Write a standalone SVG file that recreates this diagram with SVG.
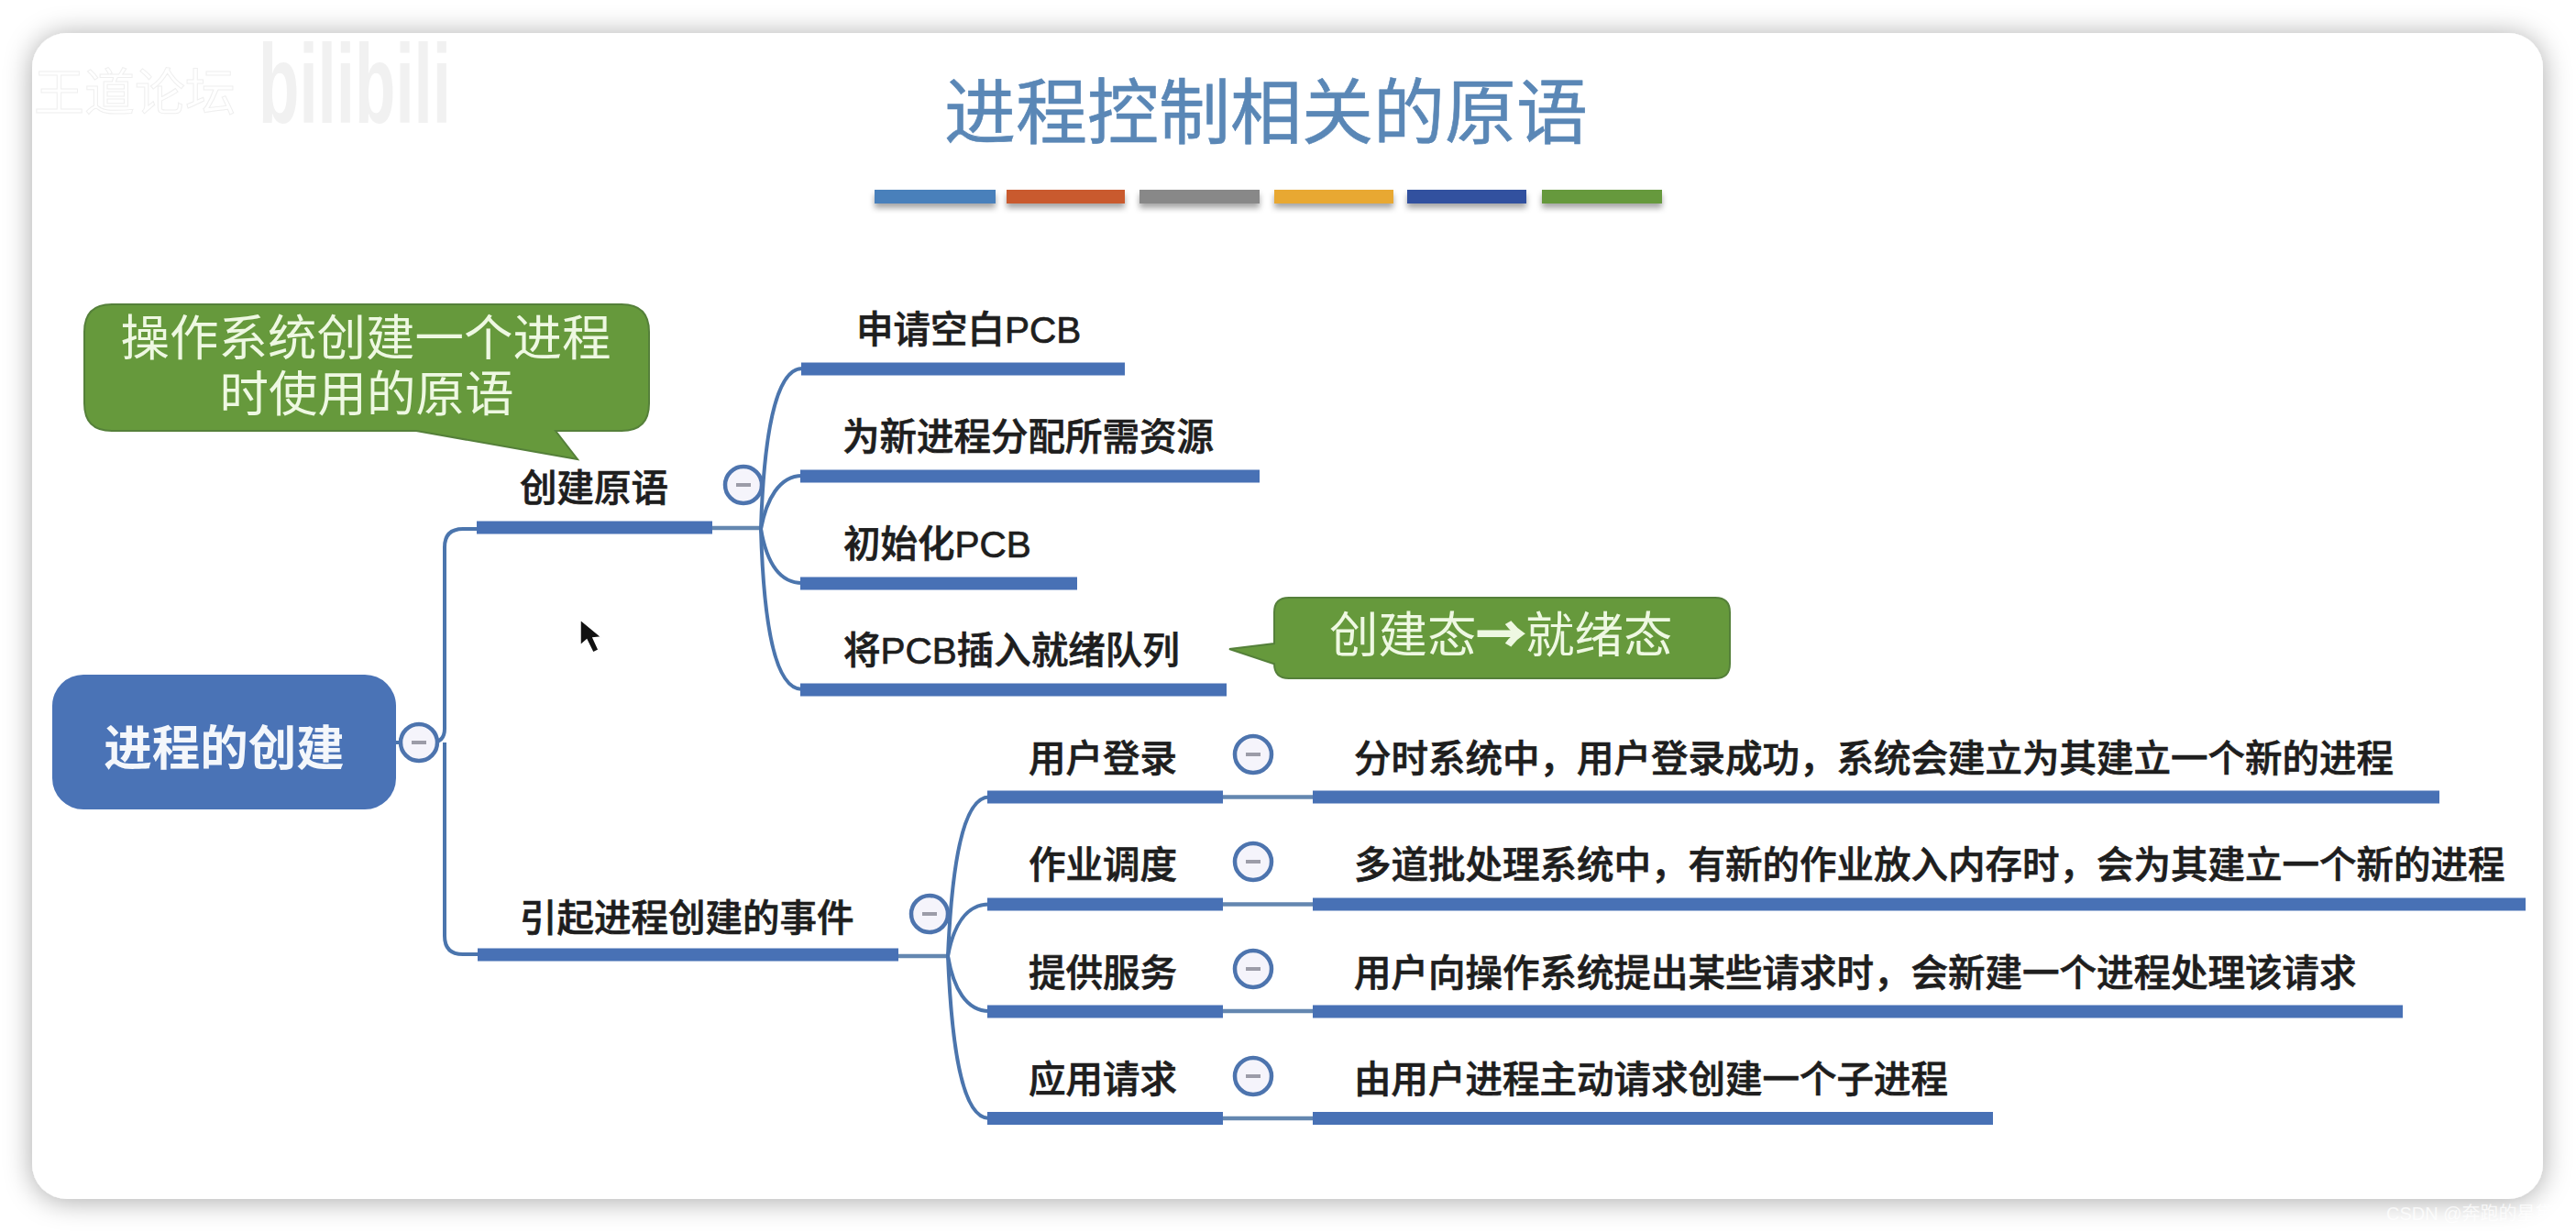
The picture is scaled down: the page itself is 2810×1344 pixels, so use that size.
<svg xmlns="http://www.w3.org/2000/svg" width="2810" height="1344" viewBox="0 0 2810 1344">
<style>
text{font-family:"Liberation Sans","Noto Sans CJK SC",sans-serif}
.lab{font-size:40.5px;fill:#1e1e1e;font-weight:500;stroke:#1e1e1e;stroke-width:.7px}
.call{font-size:53.5px;fill:#eef8e2;text-anchor:middle}
.bar{fill:#4871b5}
.link{fill:none;stroke:#4b75ad;stroke-width:4}
.stem{fill:none;stroke:#6487b0;stroke-width:4.5}
.tog{fill:#f5f4fb;stroke:#4d74ae;stroke-width:4.5}
.min{fill:#9c9ca8}
.green{fill:#66993c;stroke:#55803a;stroke-width:2}
</style>
<defs>
<filter id="card" x="-5%" y="-10%" width="110%" height="120%"><feDropShadow dx="0" dy="2" stdDeviation="15" flood-color="#000" flood-opacity=".34"/></filter>
<filter id="sh" x="-10%" y="-50%" width="120%" height="250%"><feDropShadow dx="0" dy="5" stdDeviation="3" flood-color="#000" flood-opacity=".35"/></filter>
</defs>
<rect width="2810" height="1344" fill="#fff"/>
<rect id="card-bg" x="35" y="36" width="2739" height="1272" rx="38" fill="#fff" filter="url(#card)"/>

<g id="watermarks">
<text x="37" y="120" font-size="55" fill="#fff" stroke="#efefef" stroke-width="1">王道论坛</text>
<text x="282" y="134" font-size="123" font-weight="700" fill="#f1f1f1" textLength="210" lengthAdjust="spacingAndGlyphs">bilibili</text>
<text x="2603" y="1331" font-size="20" fill="#fff" fill-opacity=".75">CSDN @奔跑的星黛</text>
</g>

<g id="title">
<text x="1381" y="151" font-size="78" fill="#5a87b6" stroke="#5a87b6" stroke-width=".6" text-anchor="middle">进程控制相关的原语</text>
<g filter="url(#sh)">
<rect x="954" y="207" width="132" height="15" fill="#4a80bb"/>
<rect x="1098" y="207" width="129" height="15" fill="#c95a2f"/>
<rect x="1243" y="207" width="131" height="15" fill="#888888"/>
<rect x="1390" y="207" width="130" height="15" fill="#e8a830"/>
<rect x="1535" y="207" width="130" height="15" fill="#33519f"/>
<rect x="1682" y="207" width="131" height="15" fill="#66993c"/>
</g>
</g>

<g id="connectors">
<path class="link" d="M432 810H470Q485 810 485 795V597Q485 577 505 577H522"/>
<path class="link" d="M485 810V1021Q485 1041 505 1041H522"/>
<path class="stem" d="M777 576H831"/>
<path class="link" d="M830 577C833 480 845 402 875 402"/>
<path class="link" d="M830 577C836 545 850 519 875 519"/>
<path class="link" d="M830 577C836 612 850 636 875 636"/>
<path class="link" d="M830 577C833 680 845 752 875 752"/>
<path class="stem" d="M980 1043H1035"/>
<path class="link" d="M1034 1043C1038 950 1049 869.5 1079 869.5"/>
<path class="link" d="M1034 1043C1040 1010 1054 986.5 1079 986.5"/>
<path class="link" d="M1034 1043C1040 1078 1054 1103 1079 1103"/>
<path class="link" d="M1034 1043C1038 1140 1049 1220 1079 1220"/>
<path class="stem" d="M1334 869.5H1432"/>
<path class="stem" d="M1334 986.5H1432"/>
<path class="stem" d="M1334 1103H1432"/>
<path class="stem" d="M1334 1220H1432"/>
</g>

<g id="root">
<rect x="57" y="736" width="375" height="147" rx="34" fill="#4a73b6"/>
<text x="244.500" y="835" font-size="52.500" font-weight="700" fill="#f4f7fb" text-anchor="middle">进程的创建</text>
<circle class="tog" cx="457" cy="810" r="20"/><rect class="min" x="449" y="808" width="16" height="4"/>
</g>

<g id="create">
<rect class="bar" x="520" y="568.500" width="257" height="14"/>
<text class="lab" x="567" y="547">创建原语</text>
<circle class="tog" cx="811" cy="529" r="20"/><rect class="min" x="803" y="527" width="16" height="4"/>
</g>
<g id="create-1">
<rect class="bar" x="874" y="395.500" width="353" height="14"/>
<text class="lab" x="934" y="374">申请空白PCB</text>
</g>
<g id="create-2">
<rect class="bar" x="873" y="512.500" width="501" height="14"/>
<text class="lab" x="919" y="491">为新进程分配所需资源</text>
</g>
<g id="create-3">
<rect class="bar" x="873" y="629.500" width="302" height="14"/>
<text class="lab" x="920" y="608">初始化PCB</text>
</g>
<g id="create-4">
<rect class="bar" x="873" y="745.500" width="465" height="14"/>
<text class="lab" x="920" y="724">将PCB插入就绪队列</text>
</g>

<g id="events">
<rect class="bar" x="521" y="1034.500" width="459" height="14"/>
<text class="lab" x="567" y="1016">引起进程创建的事件</text>
<circle class="tog" cx="1014" cy="997" r="20"/><rect class="min" x="1006" y="995" width="16" height="4"/>
</g>
<g id="event-1">
<rect class="bar" x="1077" y="862.500" width="257" height="14"/>
<text class="lab" x="1122" y="842">用户登录</text>
<circle class="tog" cx="1367" cy="823" r="20"/><rect class="min" x="1359" y="821" width="16" height="4"/>
</g>
<g id="event-1-d">
<rect class="bar" x="1432" y="862.500" width="1229" height="14"/>
<text class="lab" x="1477" y="842">分时系统中，用户登录成功，系统会建立为其建立一个新的进程</text>
</g>
<g id="event-2">
<rect class="bar" x="1077" y="979.500" width="257" height="14"/>
<text class="lab" x="1122" y="958">作业调度</text>
<circle class="tog" cx="1367" cy="940" r="20"/><rect class="min" x="1359" y="938" width="16" height="4"/>
</g>
<g id="event-2-d">
<rect class="bar" x="1432" y="979.500" width="1323" height="14"/>
<text class="lab" x="1477" y="958">多道批处理系统中，有新的作业放入内存时，会为其建立一个新的进程</text>
</g>
<g id="event-3">
<rect class="bar" x="1077" y="1096.500" width="257" height="14"/>
<text class="lab" x="1122" y="1076">提供服务</text>
<circle class="tog" cx="1367" cy="1057" r="20"/><rect class="min" x="1359" y="1055" width="16" height="4"/>
</g>
<g id="event-3-d">
<rect class="bar" x="1432" y="1096.500" width="1189" height="14"/>
<text class="lab" x="1477" y="1076">用户向操作系统提出某些请求时，会新建一个进程处理该请求</text>
</g>
<g id="event-4">
<rect class="bar" x="1077" y="1213" width="257" height="14"/>
<text class="lab" x="1122" y="1192">应用请求</text>
<circle class="tog" cx="1367" cy="1174" r="20"/><rect class="min" x="1359" y="1172" width="16" height="4"/>
</g>
<g id="event-4-d">
<rect class="bar" x="1432" y="1213" width="742" height="14"/>
<text class="lab" x="1477" y="1192">由用户进程主动请求创建一个子进程</text>
</g>

<g id="callout-primitive">
<path class="green" d="M122 332H678Q708 332 708 362V440Q708 470 678 470H606L630 501L454 470H122Q92 470 92 440V362Q92 332 122 332Z"/>
<text class="call" x="399" y="388">操作系统创建一个进程</text>
<text class="call" x="400" y="449">时使用的原语</text>
</g>
<g id="callout-state">
<path class="green" d="M1406 652H1871Q1887 652 1887 668V724Q1887 740 1871 740H1406Q1390 740 1390 724L1389 724L1341 708L1390 702V668Q1390 652 1406 652Z"/>
<text x="1450" y="712" font-size="53.500" fill="#eef8e2">创建态<tspan font-family="'Noto Sans CJK SC',sans-serif" font-weight="700" stroke="#eef8e2" stroke-width="2">→</tspan>就绪态</text>
</g>

<path id="cursor" d="M633 676V704L640 698L647 712L653 709L647 696L656 695Z" fill="#111" stroke="#fff" stroke-width="1.500"/>
</svg>
